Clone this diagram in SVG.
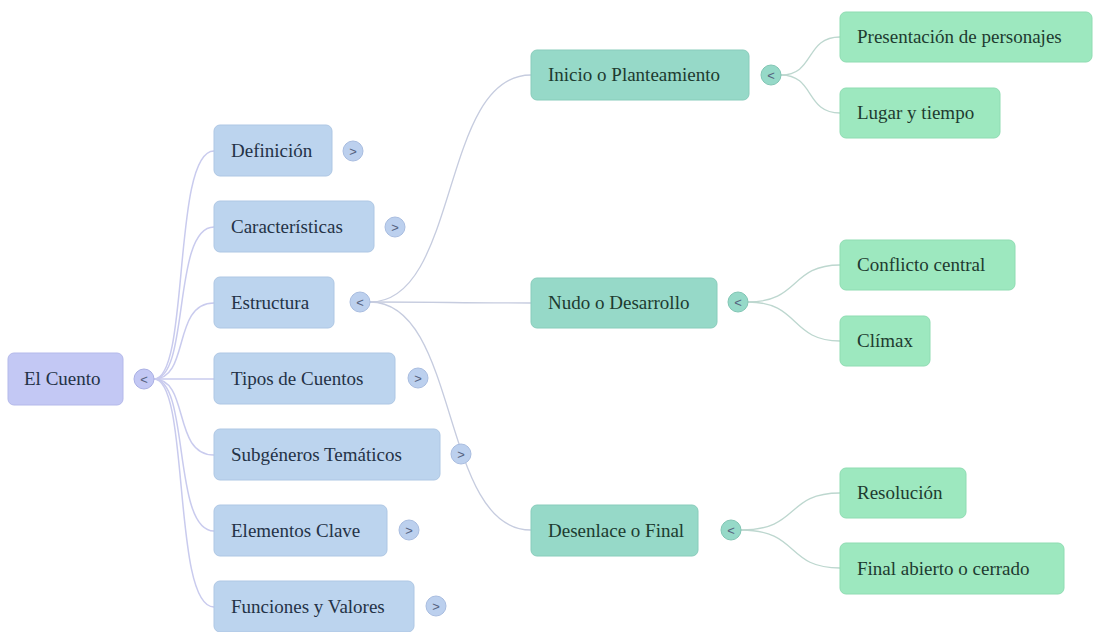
<svg xmlns="http://www.w3.org/2000/svg" width="1100" height="632" viewBox="0 0 1100 632">
<style>
.n text{font-family:"Liberation Serif","DejaVu Serif","Times New Roman",serif;font-size:19px;fill:#243246}
.l2 text,.l3 text{fill:#1d3b30}
.root rect{fill:#c3c8f4;stroke:#b4b9ea;stroke-width:1}
.l1 rect{fill:#bcd4ee;stroke:#aec7e4;stroke-width:1}
.l2 rect{fill:#96d9c8;stroke:#88ccbb;stroke-width:1}
.l3 rect{fill:#9de8bf;stroke:#8fdcb2;stroke-width:1}
.t1 circle{fill:#bcd0ee;stroke:#a9bde0;stroke-width:1}
.t0 circle{fill:#c3c8f4;stroke:#aab0e4;stroke-width:1}
.t2 circle{fill:#96d9c8;stroke:#82c6b4;stroke-width:1}
.tg text{font-family:"Liberation Sans",Arial,sans-serif;font-size:13px;fill:#55627e;text-anchor:middle}
.c0{fill:none;stroke:#c9cbee;stroke-width:1.5}
.c1{fill:none;stroke:#c6ccdf;stroke-width:1.3}
.c2{fill:none;stroke:#bdd7cf;stroke-width:1.3}
</style>
<rect width="1100" height="632" fill="#ffffff"/>
<g id="connectors">
<path class="c0" d="M154,379 C190,379 172,151 214,151"/>
<path class="c0" d="M154,379 C190,379 172,227 214,227"/>
<path class="c0" d="M154,379 C190,379 172,303 214,303"/>
<path class="c0" d="M154,379 C190,379 172,379 214,379"/>
<path class="c0" d="M154,379 C190,379 172,455 214,455"/>
<path class="c0" d="M154,379 C190,379 172,531 214,531"/>
<path class="c0" d="M154,379 C190,379 172,607 214,607"/>
<path class="c1" d="M370,302 C460,302 440,75 531,75"/>
<path class="c1" d="M370,302 C460,302 440,303 531,303"/>
<path class="c1" d="M370,302 C460,302 440,530 531,530"/>
<path class="c2" d="M781,75 C815,75 805,37 840,37"/>
<path class="c2" d="M781,75 C815,75 805,113 840,113"/>
<path class="c2" d="M748,302 C800,302 790,265 840,265"/>
<path class="c2" d="M748,302 C800,302 790,341 840,341"/>
<path class="c2" d="M741,530 C800,530 785,493 840,493"/>
<path class="c2" d="M741,530 C800,530 785,568 840,568"/>
</g>
<g id="n-root" class="n root"><rect x="8" y="353" width="115" height="52" rx="6"/><text x="24" y="385">El Cuento</text></g>
<g id="t-root" class="tg t0"><circle cx="144" cy="379" r="10"/><text x="144" y="383.5">&lt;</text></g>
<g id="n-definicion" class="n l1"><rect x="214" y="125" width="118" height="51" rx="6"/><text x="231" y="157">Definición</text></g>
<g id="t-definicion" class="tg t1"><circle cx="353" cy="151" r="10"/><text x="353" y="155.5">&gt;</text></g>
<g id="n-caracteristicas" class="n l1"><rect x="214" y="201" width="160" height="51" rx="6"/><text x="231" y="233">Características</text></g>
<g id="t-caracteristicas" class="tg t1"><circle cx="395" cy="227" r="10"/><text x="395" y="231.5">&gt;</text></g>
<g id="n-estructura" class="n l1"><rect x="214" y="277" width="120" height="51" rx="6"/><text x="231" y="309">Estructura</text></g>
<g id="t-estructura" class="tg t1"><circle cx="360" cy="302" r="10"/><text x="360" y="306.5">&lt;</text></g>
<g id="n-tipos" class="n l1"><rect x="214" y="353" width="181" height="51" rx="6"/><text x="231" y="385">Tipos de Cuentos</text></g>
<g id="t-tipos" class="tg t1"><circle cx="418" cy="378" r="10"/><text x="418" y="382.5">&gt;</text></g>
<g id="n-subgeneros" class="n l1"><rect x="214" y="429" width="226" height="51" rx="6"/><text x="231" y="461">Subgéneros Temáticos</text></g>
<g id="t-subgeneros" class="tg t1"><circle cx="461" cy="454" r="10"/><text x="461" y="458.5">&gt;</text></g>
<g id="n-elementos" class="n l1"><rect x="214" y="505" width="173" height="51" rx="6"/><text x="231" y="537">Elementos Clave</text></g>
<g id="t-elementos" class="tg t1"><circle cx="409" cy="530" r="10"/><text x="409" y="534.5">&gt;</text></g>
<g id="n-funciones" class="n l1"><rect x="214" y="581" width="200" height="51" rx="6"/><text x="231" y="613">Funciones y Valores</text></g>
<g id="t-funciones" class="tg t1"><circle cx="436" cy="606" r="10"/><text x="436" y="610.5">&gt;</text></g>
<g id="n-inicio" class="n l2"><rect x="531" y="50" width="218" height="50" rx="6"/><text x="548" y="81">Inicio o Planteamiento</text></g>
<g id="t-inicio" class="tg t2"><circle cx="771" cy="75" r="10"/><text x="771" y="79.5">&lt;</text></g>
<g id="n-nudo" class="n l2"><rect x="531" y="278" width="186" height="50" rx="6"/><text x="548" y="309">Nudo o Desarrollo</text></g>
<g id="t-nudo" class="tg t2"><circle cx="738" cy="302" r="10"/><text x="738" y="306.5">&lt;</text></g>
<g id="n-desenlace" class="n l2"><rect x="531" y="505" width="167" height="51" rx="6"/><text x="548" y="537">Desenlace o Final</text></g>
<g id="t-desenlace" class="tg t2"><circle cx="731" cy="530" r="10"/><text x="731" y="534.5">&lt;</text></g>
<g id="n-presentacion" class="n l3"><rect x="840" y="12" width="252" height="50" rx="6"/><text x="857" y="43">Presentación de personajes</text></g>
<g id="n-lugar" class="n l3"><rect x="840" y="88" width="160" height="50" rx="6"/><text x="857" y="119">Lugar y tiempo</text></g>
<g id="n-conflicto" class="n l3"><rect x="840" y="240" width="175" height="50" rx="6"/><text x="857" y="271">Conflicto central</text></g>
<g id="n-climax" class="n l3"><rect x="840" y="316" width="90" height="50" rx="6"/><text x="857" y="347">Clímax</text></g>
<g id="n-resolucion" class="n l3"><rect x="840" y="468" width="126" height="50" rx="6"/><text x="857" y="499">Resolución</text></g>
<g id="n-final" class="n l3"><rect x="840" y="543" width="224" height="51" rx="6"/><text x="857" y="575">Final abierto o cerrado</text></g>
</svg>
